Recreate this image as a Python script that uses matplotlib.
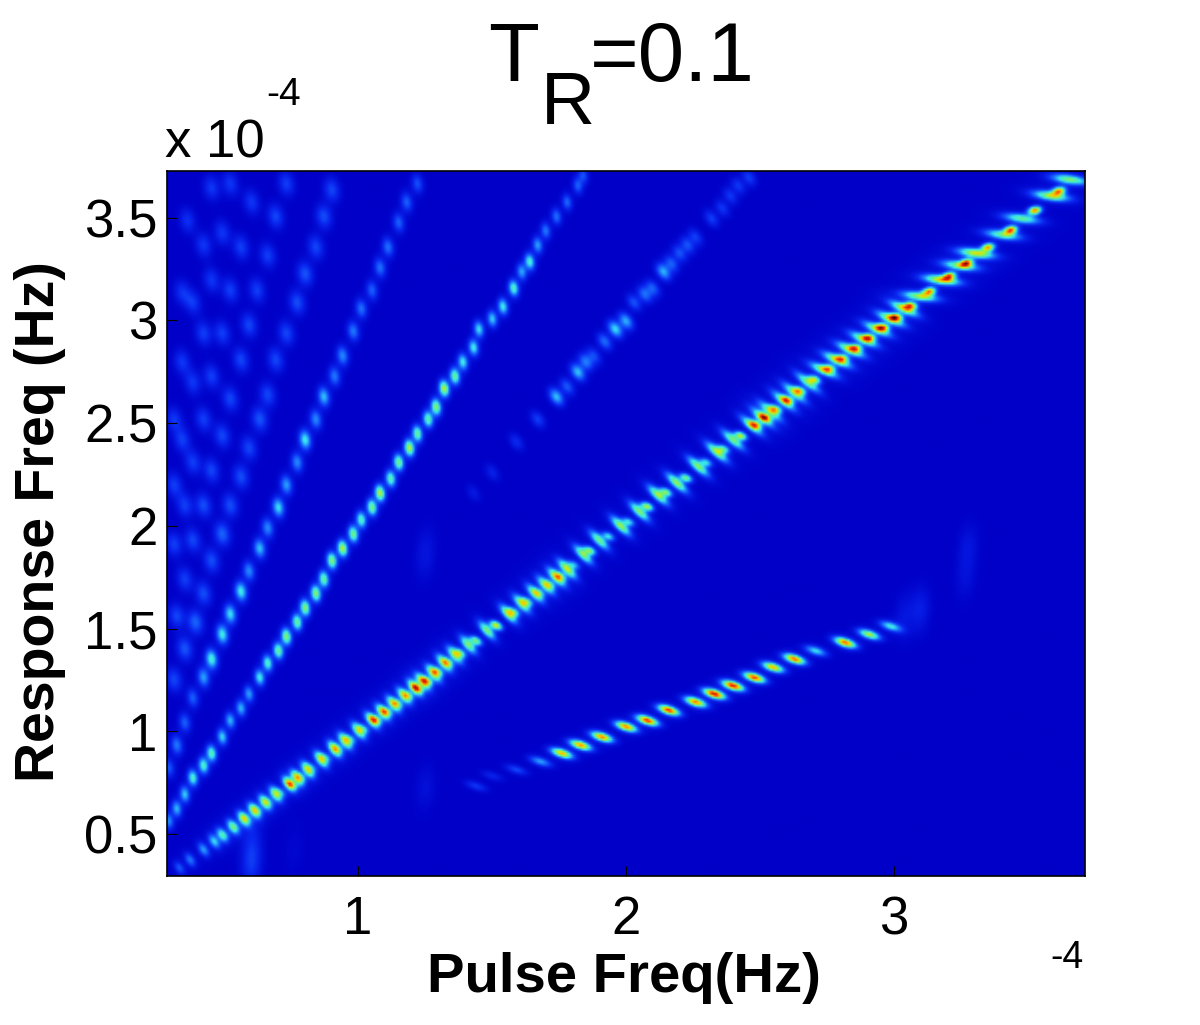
import numpy as np
import matplotlib
matplotlib.use("Agg")
import matplotlib.pyplot as plt
from matplotlib.colors import LinearSegmentedColormap

plt.rcParams['font.family'] = ['Liberation Sans', 'DejaVu Sans']

# all freqs in units of 1e-4 Hz
main_pulse = [0.33, 0.37, 0.42, 0.46, 0.49, 0.53, 0.57, 0.61, 0.65, 0.69, 0.74, 0.77, 0.81, 0.86, 0.91, 0.95,
              1.00, 1.05, 1.09, 1.13, 1.17, 1.21, 1.24, 1.28, 1.32, 1.36, 1.41, 1.48, 1.56, 1.61, 1.66, 1.70,
              1.74, 1.78, 1.84, 1.90, 1.98, 2.05, 2.12, 2.19, 2.27, 2.34, 2.40, 2.47, 2.51, 2.54, 2.59, 2.63,
              2.68, 2.74, 2.79, 2.84, 2.89, 2.94, 2.99, 3.04, 3.10, 3.18, 3.25, 3.31, 3.41, 3.48, 3.59, 3.66]
main_resp = [0.33, 0.37, 0.42, 0.46, 0.49, 0.53, 0.57, 0.61, 0.65, 0.69, 0.74, 0.77, 0.81, 0.86, 0.91, 0.95,
             1.00, 1.05, 1.09, 1.13, 1.17, 1.21, 1.24, 1.28, 1.33, 1.37, 1.42, 1.49, 1.57, 1.62, 1.67, 1.71,
             1.75, 1.79, 1.86, 1.93, 2.00, 2.07, 2.15, 2.21, 2.29, 2.36, 2.42, 2.49, 2.53, 2.56, 2.61, 2.65,
             2.70, 2.76, 2.81, 2.86, 2.91, 2.96, 3.01, 3.06, 3.12, 3.20, 3.27, 3.33, 3.42, 3.50, 3.61, 3.69]
main_amp = [0.14, 0.18, 0.22, 0.27, 0.32, 0.38, 0.46, 0.48, 0.44, 0.45, 0.47, 0.49, 0.50, 0.50, 0.50, 0.50,
            0.46, 0.44, 0.44, 0.42, 0.42, 0.46, 0.46, 0.46, 0.44, 0.42, 0.42, 0.42, 0.44, 0.42, 0.40, 0.40,
            0.46, 0.48, 0.42, 0.40, 0.44, 0.42, 0.44, 0.44, 0.42, 0.44, 0.40, 0.38, 0.38, 0.38, 0.38, 0.38,
            0.38, 0.44, 0.48, 0.46, 0.44, 0.42, 0.46, 0.48, 0.44, 0.52, 0.42, 0.50, 0.38, 0.38, 0.46, 0.42]
main_core = [0.00, 0.00, 0.00, 0.00, 0.05, 0.05, 0.10, 0.10, 0.10, 0.15, 0.20, 0.15, 0.10, 0.15, 0.15, 0.20,
             0.20, 0.35, 0.30, 0.25, 0.25, 0.30, 0.35, 0.30, 0.25, 0.30, 0.35, 0.45, 0.30, 0.30, 0.20, 0.20,
             0.25, 0.20, 0.35, 0.25, 0.25, 0.40, 0.35, 0.35, 0.25, 0.30, 0.40, 0.40, 0.40, 0.40, 0.40, 0.40,
             0.40, 0.35, 0.35, 0.40, 0.45, 0.50, 0.50, 0.50, 0.50, 0.50, 0.50, 0.50, 0.55, 0.55, 0.50, 0.00]

second_pulse = [0.29, 0.32, 0.35, 0.38, 0.42, 0.45, 0.49, 0.52, 0.56, 0.59, 0.63, 0.66, 0.70, 0.73, 0.77, 0.80,
                0.84, 0.87, 0.90, 0.94, 0.98, 1.01, 1.05, 1.08, 1.12, 1.15, 1.19, 1.22, 1.26, 1.29, 1.32, 1.36,
                1.39, 1.43, 1.45, 1.50, 1.54, 1.58, 1.61, 1.64, 1.67, 1.70, 1.74, 1.78, 1.82, 1.84]
second_resp = [0.56, 0.62, 0.69, 0.77, 0.83, 0.89, 0.97, 1.05, 1.11, 1.18, 1.26, 1.33, 1.39, 1.46, 1.53, 1.60,
               1.67, 1.74, 1.83, 1.89, 1.96, 2.03, 2.09, 2.16, 2.23, 2.31, 2.38, 2.45, 2.52, 2.58, 2.67, 2.73,
               2.80, 2.87, 2.96, 3.01, 3.07, 3.16, 3.24, 3.29, 3.37, 3.44, 3.51, 3.58, 3.66, 3.71]
second_amp = [0.20, 0.24, 0.26, 0.33, 0.33, 0.35, 0.27, 0.24, 0.24, 0.22, 0.30, 0.33, 0.38, 0.42, 0.38, 0.42,
              0.42, 0.38, 0.42, 0.46, 0.40, 0.34, 0.40, 0.46, 0.36, 0.40, 0.46, 0.38, 0.36, 0.42, 0.46, 0.38,
              0.30, 0.30, 0.28, 0.26, 0.30, 0.34, 0.22, 0.32, 0.22, 0.18, 0.17, 0.16, 0.15, 0.13]

third_pulse = [1.22, 1.18, 1.15, 1.11, 1.08, 1.05, 1.01, 0.98, 0.94, 0.91, 0.87, 0.84, 0.80, 0.77, 0.73, 0.70,
               0.66, 0.63, 0.59, 0.56, 0.52, 0.49, 0.45, 0.42, 0.38, 0.35, 0.32, 0.29]
third_resp = [3.67, 3.58, 3.48, 3.36, 3.26, 3.15, 3.06, 2.95, 2.83, 2.73, 2.63, 2.52, 2.42, 2.31, 2.20, 2.09,
              1.99, 1.89, 1.78, 1.68, 1.57, 1.47, 1.35, 1.26, 1.16, 1.04, 0.93, 0.82]
third_amp = [0.13, 0.15, 0.15, 0.17, 0.17, 0.15, 0.17, 0.18, 0.20, 0.18, 0.25, 0.20, 0.30, 0.20, 0.22, 0.28,
             0.20, 0.25, 0.20, 0.30, 0.28, 0.30, 0.32, 0.22, 0.15, 0.15, 0.18, 0.14]

half_pulse = [1.44, 1.50, 1.59, 1.68, 1.76, 1.83, 1.91, 2.00, 2.08, 2.16, 2.26, 2.33, 2.40, 2.48, 2.55, 2.63,
              2.71, 2.82, 2.91, 2.99]
half_resp = [0.73, 0.78, 0.81, 0.85, 0.89, 0.93, 0.97, 1.02, 1.05, 1.10, 1.14, 1.18, 1.22, 1.26, 1.31, 1.35,
             1.39, 1.43, 1.47, 1.51]
half_amp = [0.10, 0.07, 0.12, 0.22, 0.55, 0.58, 0.60, 0.60, 0.66, 0.66, 0.60, 0.72, 0.70, 0.65, 0.55, 0.62,
            0.28, 0.62, 0.45, 0.30]

three_half_pulse = [1.43, 1.50, 1.59, 1.67, 1.74, 1.78, 1.82, 1.85, 1.88, 1.92, 1.96, 2.00, 2.03, 2.07, 2.10, 2.14,
                    2.17, 2.20, 2.23, 2.26, 2.32, 2.36, 2.39, 2.42, 2.46]
three_half_resp = [2.16, 2.26, 2.41, 2.52, 2.63, 2.68, 2.75, 2.80, 2.83, 2.90, 2.96, 3.00, 3.09, 3.13, 3.16, 3.24,
                   3.28, 3.33, 3.37, 3.41, 3.50, 3.55, 3.61, 3.66, 3.70]
three_half_amp = [0.06, 0.08, 0.10, 0.13, 0.30, 0.17, 0.30, 0.22, 0.15, 0.20, 0.33, 0.28, 0.16, 0.20, 0.18, 0.28,
                  0.18, 0.16, 0.16, 0.13, 0.13, 0.12, 0.12, 0.12, 0.13]

# the lattice of weak spots top left
weak_pulse = [0.90, 0.87, 0.84, 0.80, 0.77, 0.73, 0.69, 0.66, 0.63, 0.59, 0.56, 0.52, 0.49, 0.45, 0.42, 0.39, 0.35, 0.31,
              0.73, 0.69, 0.66, 0.62, 0.59, 0.56, 0.52, 0.49, 0.45, 0.42, 0.38, 0.35, 0.32,
              0.60, 0.56, 0.52, 0.49, 0.45, 0.42, 0.38, 0.35, 0.31,
              0.52, 0.49, 0.45, 0.42, 0.38, 0.34, 0.31,
              0.45, 0.42, 0.38, 0.34, 0.31, 0.36, 0.34]
weak_resp = [3.64, 3.51, 3.36, 3.23, 3.09, 2.94, 2.81, 2.64, 2.52, 2.38, 2.24, 2.10, 1.96, 1.83, 1.67, 1.53, 1.40, 1.25,
             3.67, 3.51, 3.32, 3.15, 2.98, 2.81, 2.62, 2.44, 2.27, 2.10, 1.93, 1.74, 1.56,
             3.58, 3.36, 3.15, 2.94, 2.73, 2.52, 2.31, 2.10, 1.91,
             3.67, 3.43, 3.20, 2.94, 2.70, 2.42, 2.20,
             3.65, 3.37, 3.09, 2.80, 2.52, 3.49, 3.14]
weak_amp = [0.13, 0.14, 0.13, 0.15, 0.14, 0.13, 0.13, 0.13, 0.15, 0.13, 0.14, 0.14, 0.17, 0.14, 0.14, 0.17, 0.15, 0.13,
            0.12, 0.13, 0.12, 0.12, 0.13, 0.13, 0.13, 0.13, 0.13, 0.14, 0.13, 0.12, 0.13,
            0.11, 0.12, 0.12, 0.12, 0.12, 0.12, 0.12, 0.12, 0.12,
            0.11, 0.11, 0.11, 0.12, 0.11, 0.12, 0.12,
            0.11, 0.11, 0.11, 0.11, 0.11, 0.10, 0.10]

# smeared faint patches
faint_pulse = [0.60, 0.60, 0.76, 1.25, 1.25, 1.25, 3.10, 3.04, 3.28, 3.27]
faint_resp = [0.45, 0.34, 0.42, 0.72, 1.90, 1.83, 1.59, 1.56, 1.90, 1.75]
faint_amp = [0.07, 0.10, 0.02, 0.04, 0.03, 0.03, 0.07, 0.05, 0.05, 0.04]

x_ticks = [1, 2, 3]
y_ticks = [0.5, 1, 1.5, 2, 2.5, 3, 3.5]
y_tick_labels = ['0.5', '1', '1.5', '2', '2.5', '3', '3.5']

x_min, x_max = 0.287, 3.713
y_min, y_max = 0.296, 3.727

W, H = 1200, 1025
ax_l, ax_r, ax_t, ax_b = 167, 1085, 171, 876
sx = (ax_r - ax_l) / (x_max - x_min)  # pixels per unit
sy = (ax_b - ax_t) / (y_max - y_min)

xx = np.linspace(x_min, x_max, 460)
yy = np.linspace(y_min, y_max, 354)
X, Y = np.meshgrid(xx, yy)
field = np.zeros_like(X)


def add_blob(x0, y0, amp, long_s, short_s, angle):
    global field
    dx = (X - x0) * sx
    dy = (Y - y0) * sy
    t = np.radians(angle)
    u = dx * np.cos(t) + dy * np.sin(t)
    v = -dx * np.sin(t) + dy * np.cos(t)
    field = field + amp * np.exp(-0.5 * (u / long_s) ** 2 - 0.5 * (v / short_s) ** 2)


for i in range(len(main_pulse)):
    p = main_pulse[i]
    if p < 2.7:
        angle = -60 + 8 * p
        long_s = 4.5 + 2 * p
    elif p < 3.1:
        angle = -25
        long_s = 10.0
    else:
        angle = -8
        long_s = 12.0
    short_s = 3.1
    add_blob(p, main_resp[i], main_amp[i] * 1.08, long_s, short_s, angle)
    add_blob(p, main_resp[i], main_amp[i] * 0.1, long_s * 2.0, short_s * 2.2, angle)
    if main_core[i] > 0 and i + 1 < len(main_pulse):
        # hot spot in the notch between two streaks
        add_blob((p + main_pulse[i + 1]) / 2 - 0.006, (main_resp[i] + main_resp[i + 1]) / 2 - 0.016,
                 main_core[i] * 1.3, 4.6, 2.8, angle + 20)

for i in range(len(second_pulse)):
    add_blob(second_pulse[i], second_resp[i], second_amp[i], 5.5, 3.2, 100)
    add_blob(second_pulse[i], second_resp[i], second_amp[i] * 0.2, 7.5, 5.0, 90)
for i in range(len(third_pulse)):
    add_blob(third_pulse[i], third_resp[i], third_amp[i], 6.5, 3.8, 100)
    add_blob(third_pulse[i], third_resp[i], third_amp[i] * 0.2, 9.0, 5.5, 90)
for i in range(len(half_pulse)):
    add_blob(half_pulse[i], half_resp[i], half_amp[i] * 1.1, 7.5, 2.8, -18)
    add_blob(half_pulse[i], half_resp[i], half_amp[i] * 0.1, 10.0, 6.0, -18)
for i in range(len(three_half_pulse)):
    add_blob(three_half_pulse[i], three_half_resp[i], three_half_amp[i], 6.5, 4.2, 125)
for i in range(len(weak_pulse)):
    add_blob(weak_pulse[i], weak_resp[i], weak_amp[i] * 1.1, 8.5, 5.5, 100)
for i in range(len(faint_pulse)):
    add_blob(faint_pulse[i], faint_resp[i], faint_amp[i], 16.0, 7.0, 85)

cmap = LinearSegmentedColormap.from_list('jetblack', [
    (0.00, '#0000c8'), (0.10, '#0a28f0'), (0.22, '#1c78ff'), (0.34, '#38e8f0'),
    (0.46, '#60f090'), (0.56, '#c8f010'), (0.66, '#ffc000'), (0.78, '#ff3000'),
    (0.90, '#b01000'), (1.00, '#000000')])

fig = plt.figure(figsize=(W / 100, H / 100), dpi=100, facecolor='white')
ax = fig.add_axes([ax_l / W, 1 - ax_b / H, (ax_r - ax_l) / W, (ax_b - ax_t) / H])
ax.imshow(field, origin='lower', extent=[x_min, x_max, y_min, y_max], aspect='auto',
          cmap=cmap, vmin=0, vmax=1, interpolation='bilinear')
ax.set_xticks(x_ticks)
ax.set_yticks(y_ticks)
ax.set_yticklabels(y_tick_labels)
ax.tick_params(direction='in', length=7, width=0.8, labelsize=38, pad=7)
ax.tick_params(axis='x', pad=14)
for s in ax.spines.values():
    s.set_linewidth(1.2)


def put(px, py, s, size, **kw):
    fig.text(px / W, 1 - py / H, s, fontsize=size, **kw)


put(624, 978, 'Pulse Freq(Hz)', 40.5, fontweight='bold', ha='center', va='center')
put(40, 522, 'Response Freq (Hz)', 40, fontweight='bold', rotation=90, ha='center', va='center')
put(1067, 958, '-4', 27, ha='center', va='center')
put(165, 157, 'x 10', 38, ha='left', va='baseline')
put(284, 95, '-4', 28, ha='center', va='center')
put(488, 81, 'T', 60, ha='left', va='baseline')
put(541, 124, 'R', 54, ha='left', va='baseline')
put(590, 81, '=0.1', 60, ha='left', va='baseline')

fig.savefig('out.png', dpi=100, facecolor='white')
